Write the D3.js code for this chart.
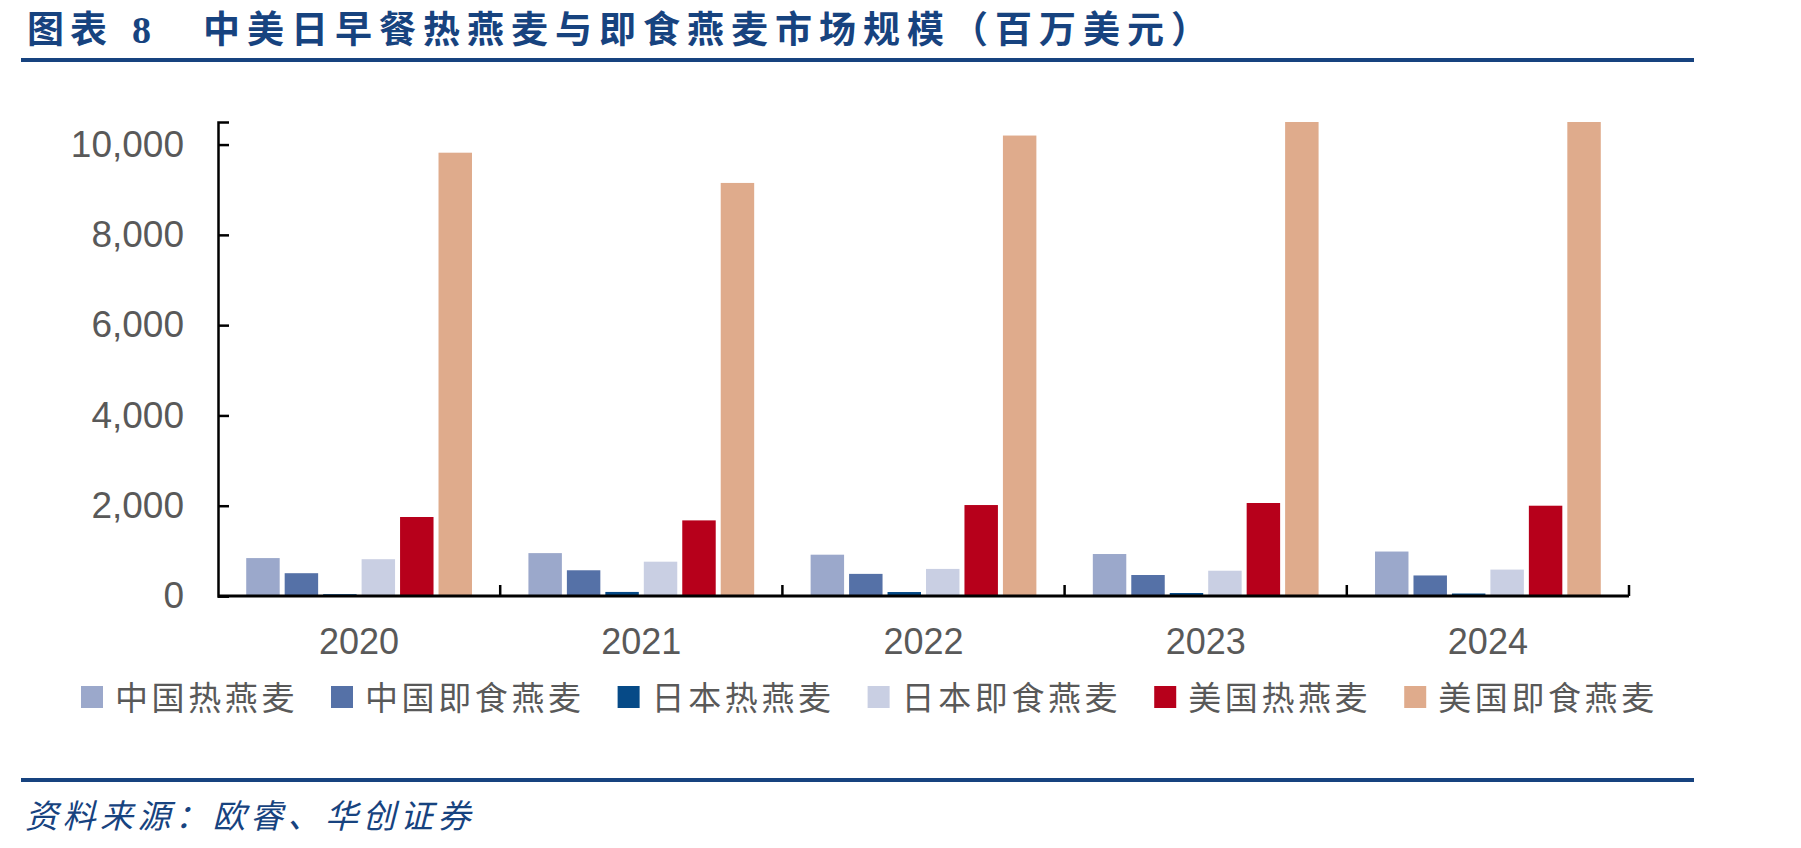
<!DOCTYPE html>
<html>
<head>
<meta charset="utf-8">
<script src="https://cdn.jsdelivr.net/npm/d3@7"></script>
<style>
    body { margin: 0; background: #ffffff; }
    svg { display: block; }
</style>
</head>
<body>
<svg id="barchart"></svg>
<script>

var years = ["2020", "2021", "2022", "2023", "2024"]
var seriesNames = ["中国热燕麦", "中国即食燕麦", "日本热燕麦", "日本即食燕麦", "美国热燕麦", "美国即食燕麦"]
var seriesColors = ["#9ba8cb", "#5571a7", "#064a87", "#c9cfe3", "#b7001b", "#dfab8c"]

var chinaHot = [840, 950, 915, 930, 985]
var chinaInstant = [505, 570, 490, 465, 455]
var japanHot = [40, 90, 88, 66, 55]
var japanInstant = [815, 760, 600, 560, 585]
var usHot = [1750, 1675, 2015, 2060, 2000]
var usInstant = [9820, 9150, 10200, 10600, 10600]

var yTicks = [0, 2000, 4000, 6000, 8000, 10000]

var titleLabel = "图表"
var titleNumber = "8"
var titleText = "中美日早餐热燕麦与即食燕麦市场规模（百万美元）"
var sourceText = "资料来源：欧睿、华创证券"

var allSeries = [chinaHot, chinaInstant, japanHot, japanInstant, usHot, usInstant]

var dimensions = {
    width: 1801,
    height: 848,
    margin: {
        top: 122,
        bottom: 252,
        right: 172,
        left: 218
    }
}

var blue = "#17437f"
var gray = "#595959"

var svg = d3.select("#barchart")
    .attr("width", dimensions.width)
    .attr("height", dimensions.height)

// title + rules
svg.append("text")
    .attr("x", 27)
    .attr("y", 43)
    .attr("fill", blue)
    .style("font-family", "'Noto Sans CJK SC'")
    .style("font-weight", 700)
    .style("font-size", "37px")
    .style("letter-spacing", "6px")
    .text(titleLabel)

svg.append("text")
    .attr("x", 132)
    .attr("y", 43)
    .attr("fill", blue)
    .style("font-family", "'Liberation Serif'")
    .style("font-weight", 700)
    .style("font-size", "38px")
    .text(titleNumber)

svg.append("text")
    .attr("x", 203)
    .attr("y", 43)
    .attr("fill", blue)
    .style("font-family", "'Noto Sans CJK SC'")
    .style("font-weight", 700)
    .style("font-size", "37px")
    .style("letter-spacing", "7px")
    .text(titleText)

svg.append("line")
    .attr("x1", 21).attr("x2", 1694)
    .attr("y1", 60).attr("y2", 60)
    .attr("stroke", blue)
    .attr("stroke-width", 4)

svg.append("line")
    .attr("x1", 21).attr("x2", 1694)
    .attr("y1", 780).attr("y2", 780)
    .attr("stroke", blue)
    .attr("stroke-width", 4)

svg.append("text")
    .attr("x", 25)
    .attr("y", 828)
    .attr("fill", blue)
    .style("font-family", "'Noto Sans CJK SC'")
    .style("font-style", "italic")
    .style("font-size", "33px")
    .style("letter-spacing", "4.5px")
    .text(sourceText)

// scales
var xScale = d3.scaleBand()
    .domain(years)
    .range([dimensions.margin.left, dimensions.width - dimensions.margin.right])
    .paddingInner(0.2)
    .paddingOuter(0.1)

var xSub = d3.scaleBand()
    .domain(seriesNames)
    .range([0, xScale.bandwidth()])
    .paddingInner(0.13)

var yScale = d3.scaleLinear()
    .domain([0, 10500])
    .range([dimensions.height - dimensions.margin.bottom, dimensions.margin.top])
    .clamp(true)

var colorScale = d3.scaleOrdinal()
    .domain(seriesNames)
    .range(seriesColors)

var rows = []
years.forEach(function(year, i) {
    seriesNames.forEach(function(name, j) {
        rows.push({ year: year, name: name, value: allSeries[j][i] })
    })
})

var bars = svg.append("g")
    .selectAll("rect")
    .data(rows)
    .enter()
    .append("rect")
    .attr("x", d => xScale(d.year) + xSub(d.name))
    .attr("y", d => yScale(d.value))
    .attr("width", xSub.bandwidth())
    .attr("height", d => yScale(0) - yScale(d.value))
    .attr("fill", d => colorScale(d.name))

// axes
var yAxisgen = d3.axisLeft(yScale)
    .tickValues(yTicks)
    .tickFormat(d3.format(","))
    .tickSize(-11)
    .tickPadding(34)

var yAxis = svg.append("g")
    .attr("transform", `translate(${dimensions.margin.left},0)`)
    .call(yAxisgen)

yAxis.select(".domain")
    .attr("stroke", "#000")
    .attr("stroke-width", 2.5)
yAxis.selectAll(".tick line")
    .attr("stroke", "#000")
    .attr("stroke-width", 2.5)
yAxis.selectAll(".tick text")
    .attr("fill", gray)
    .style("font-family", "'Liberation Sans', Arial")
    .style("font-size", "37px")

var xEdges = d3.scalePoint()
    .domain(d3.range(years.length + 1))
    .range([dimensions.margin.left, dimensions.width - dimensions.margin.right])

var xAxis = svg.append("g")
    .attr("transform", `translate(0,${yScale(0)})`)

xAxis.append("line")
    .attr("x1", dimensions.margin.left)
    .attr("x2", dimensions.width - dimensions.margin.right)
    .attr("stroke", "#000")
    .attr("stroke-width", 3)

xAxis.selectAll(".xtick")
    .data(d3.range(1, years.length + 1))
    .enter()
    .append("line")
    .attr("x1", d => xEdges(d))
    .attr("x2", d => xEdges(d))
    .attr("y1", 0)
    .attr("y2", -11)
    .attr("stroke", "#000")
    .attr("stroke-width", 2.5)

xAxis.selectAll(".xlabel")
    .data(years)
    .enter()
    .append("text")
    .attr("x", d => xScale(d) + xScale.bandwidth() / 2)
    .attr("y", 58)
    .attr("text-anchor", "middle")
    .attr("fill", gray)
    .style("font-family", "'Liberation Sans', Arial")
    .style("font-size", "36px")
    .text(d => d)

// legend
var legend = svg.append("g")
var legendX = 81
seriesNames.forEach(function(name) {
    legend.append("rect")
        .attr("x", legendX)
        .attr("y", 686)
        .attr("width", 22)
        .attr("height", 22)
        .attr("fill", colorScale(name))
    var label = legend.append("text")
        .attr("x", legendX + 34)
        .attr("y", 710)
        .attr("fill", gray)
        .style("font-family", "'Noto Sans CJK SC'")
        .style("font-size", "33px")
        .style("letter-spacing", "3.6px")
        .text(name)
    legendX = legendX + 34 + label.node().getComputedTextLength() + 33
})

</script>
</body>
</html>
